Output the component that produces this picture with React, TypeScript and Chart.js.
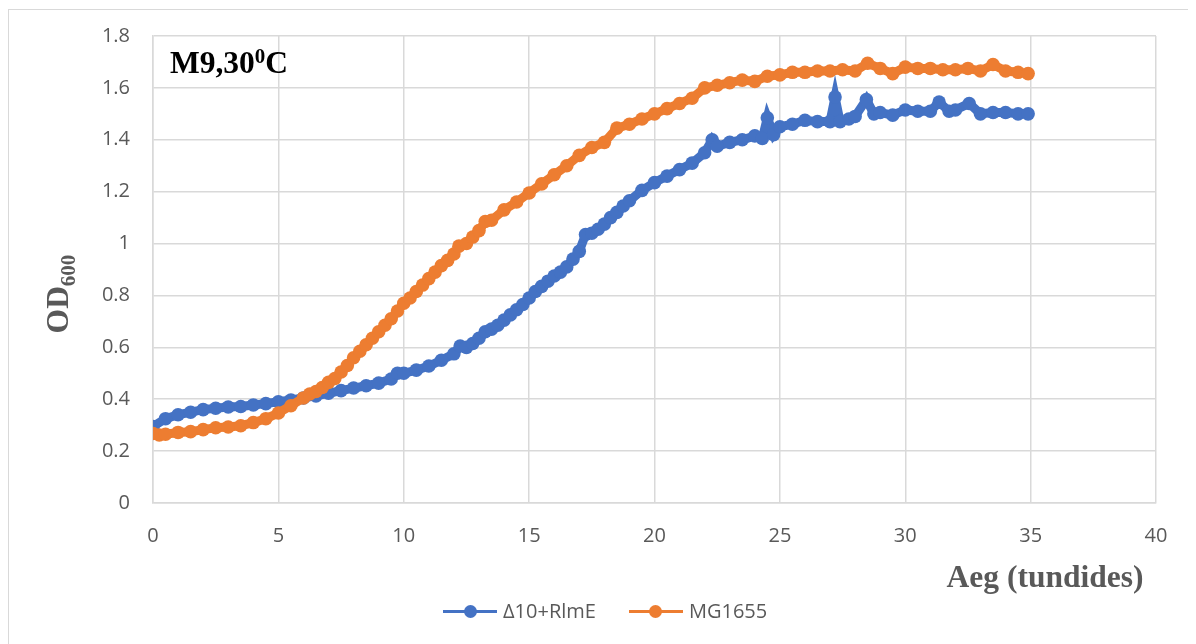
import React, { useEffect, useRef } from "react";
import { Chart, registerables } from "chart.js";

Chart.register(...registerables);

// Time (hours) and OD600 readings for Δ10+RlmE
const blueTime = [
  0, 0.5, 1, 1.5, 2, 2.5, 3, 3.5, 4, 4.5, 5, 5.5, 6, 6.5, 7, 7.5, 8, 8.5, 9, 9.5, 9.75,
  10, 10.5, 11, 11.5, 12, 12.25, 12.5, 12.75, 13, 13.25, 13.5, 13.75, 14, 14.25, 14.5, 14.75,
  15, 15.25, 15.5, 15.75, 16, 16.25, 16.5, 16.75, 17, 17.25, 17.5, 17.75, 18, 18.25, 18.5, 18.75,
  19, 19.5, 20, 20.5, 21, 21.5, 22, 22.3, 22.5, 23, 23.5, 24, 24.3, 24.5, 24.75, 25, 25.5, 26,
  26.5, 27, 27.2, 27.4, 27.75, 28, 28.45, 28.75, 29, 29.5, 30, 30.5, 31, 31.35, 31.75, 32,
  32.55, 33, 33.5, 34, 34.5, 34.9,
];
const blueOD = [
  0.295, 0.325, 0.34, 0.35, 0.36, 0.365, 0.37, 0.372, 0.378, 0.383, 0.39, 0.397, 0.405, 0.413,
  0.423, 0.433, 0.443, 0.452, 0.462, 0.478, 0.5,
  0.5, 0.512, 0.528, 0.55, 0.575, 0.605, 0.6, 0.615, 0.635, 0.66, 0.67, 0.685, 0.705, 0.725,
  0.745, 0.765,
  0.79, 0.815, 0.835, 0.855, 0.875, 0.89, 0.91, 0.94, 0.97, 1.035, 1.04, 1.055, 1.075, 1.1,
  1.12, 1.145,
  1.165, 1.205, 1.235, 1.26, 1.285, 1.31, 1.35, 1.4, 1.375, 1.39, 1.4, 1.415, 1.405, 1.485,
  1.42, 1.45, 1.46, 1.475,
  1.47, 1.47, 1.565, 1.47, 1.48, 1.49, 1.555, 1.5, 1.505, 1.495, 1.515, 1.51, 1.51, 1.545,
  1.51, 1.515,
  1.54, 1.5, 1.505, 1.505, 1.5, 1.5,
];

// Time (hours) and OD600 readings for MG1655
const orangeTime = [
  0, 0.25, 0.5, 1, 1.5, 2, 2.5, 3, 3.5, 4, 4.5, 5, 5.5, 6, 6.25, 6.5, 6.75, 7, 7.25, 7.5, 7.75,
  8, 8.25, 8.5, 8.75, 9, 9.25, 9.5, 9.75, 10, 10.25, 10.5, 10.75, 11, 11.25, 11.5, 11.75, 12,
  12.2, 12.5, 12.75, 13, 13.25, 13.5, 14, 14.5, 15, 15.5, 16, 16.5, 17, 17.5, 18, 18.5, 19,
  19.5, 20, 20.5, 21, 21.5, 22, 22.5, 23, 23.5, 24, 24.5, 25, 25.5, 26, 26.5, 27, 27.5, 28,
  28.5, 29, 29.5, 30, 30.5, 31, 31.5, 32, 32.5, 33, 33.5, 34, 34.5, 34.9,
];
const orangeOD = [
  0.268, 0.262, 0.265, 0.272, 0.275, 0.283, 0.29, 0.293, 0.298, 0.31, 0.325, 0.347, 0.375,
  0.405, 0.42, 0.43, 0.445, 0.465, 0.48, 0.505, 0.53,
  0.56, 0.585, 0.61, 0.635, 0.66, 0.685, 0.71, 0.74, 0.77, 0.79, 0.815, 0.84, 0.865, 0.89,
  0.915, 0.935, 0.96,
  0.99, 1.0, 1.025, 1.05, 1.085, 1.09, 1.13, 1.16, 1.195, 1.23, 1.265, 1.3, 1.34, 1.37, 1.39,
  1.445, 1.46,
  1.48, 1.5, 1.52, 1.54, 1.56, 1.6, 1.61, 1.62, 1.63, 1.625, 1.645, 1.65, 1.66, 1.66, 1.665,
  1.665, 1.67, 1.665,
  1.695, 1.675, 1.655, 1.68, 1.675, 1.675, 1.67, 1.67, 1.675, 1.665, 1.69, 1.665, 1.66, 1.655,
];

const seriesNames = ["Δ10+RlmE", "MG1655"];
const seriesColors = ["#4472C4", "#ED7D31"];
const xTickStep = 5;
const yTickStep = 0.2;

const W = 1180;
const H = 636;
const PAD_TOP = 28;
const PAD_RIGHT = 32;
const Y_AXIS_W = 145;
const X_AXIS_H = 141;

const GRID = "#d9d9d9";
const TEXT = "#595959";

export default function App() {
  const ref = useRef<HTMLCanvasElement | null>(null);

  useEffect(() => {
    document.documentElement.style.overflow = "hidden";
    document.body.style.overflow = "hidden";
    const canvas = ref.current;
    if (!canvas) return;
    Chart.defaults.font.family = "'Open Sans', sans-serif";
    const toPts = (xs: number[], ys: number[]) => xs.map((x, i) => ({ x, y: ys[i] }));
    const mk = (i: number, xs: number[], ys: number[], order: number) => ({
      label: seriesNames[i],
      data: toPts(xs, ys),
      borderColor: seriesColors[i],
      backgroundColor: seriesColors[i],
      borderWidth: 9,
      pointRadius: 6.8,
      pointBorderWidth: 0,
      pointHoverRadius: 6.8,
      order,
    });
    const chart = new Chart(canvas, {
      type: "line",
      data: {
        datasets: [mk(0, blueTime, blueOD, 2), mk(1, orangeTime, orangeOD, 1)],
      },
      options: {
        responsive: false,
        animation: false,
        layout: { padding: { top: PAD_TOP, right: PAD_RIGHT, left: 0, bottom: 0 } },
        plugins: { legend: { display: false }, tooltip: { enabled: false }, title: { display: false } },
        scales: {
          x: {
            type: "linear",
            min: 0,
            max: 40,
            ticks: {
              stepSize: xTickStep,
              color: TEXT,
              font: { size: 20 },
              padding: 21,
            },
            grid: { color: GRID, lineWidth: 1.5, drawTicks: false },
            border: { color: GRID, width: 1.5 },
            afterFit: (s: any) => {
              s.height = X_AXIS_H;
              s.paddingLeft = 0;
              s.paddingRight = 0;
              s.paddingTop = 0;
              s.paddingBottom = 0;
            },
          },
          y: {
            min: 0,
            max: 1.8,
            ticks: {
              stepSize: yTickStep,
              color: TEXT,
              font: { size: 20 },
              padding: 23,
              callback: (v: any) => String(parseFloat(Number(v).toFixed(1))),
            },
            grid: { color: GRID, lineWidth: 1.5, drawTicks: false },
            border: { color: GRID, width: 1.5 },
            afterFit: (s: any) => {
              s.width = Y_AXIS_W;
              s.paddingLeft = 0;
              s.paddingRight = 0;
              s.paddingTop = 0;
              s.paddingBottom = 0;
            },
          },
        },
      },
    });
    return () => chart.destroy();
  }, []);

  const serifBold: React.CSSProperties = {
    fontFamily: "'Liberation Serif', 'Times New Roman', serif",
    fontWeight: "bold",
    fontSize: 31.5,
    lineHeight: 1,
    whiteSpace: "nowrap",
    position: "absolute",
  };

  const legendItem = (color: string, name: string) => (
    <div style={{ display: "flex", alignItems: "center" }}>
      <div style={{ position: "relative", width: 54, height: 14 }}>
        <div
          style={{
            position: "absolute",
            left: 0,
            right: 0,
            top: 5.5,
            height: 3,
            background: color,
          }}
        />
        <div
          style={{
            position: "absolute",
            left: 20.5,
            top: 0.5,
            width: 13,
            height: 13,
            borderRadius: "50%",
            background: color,
          }}
        />
      </div>
      <span style={{ marginLeft: 6, fontFamily: "'Open Sans', sans-serif", fontSize: 20, color: TEXT, lineHeight: "24px" }}>
        {name}
      </span>
    </div>
  );

  return (
    <div style={{ position: "relative", width: W, height: H, overflow: "hidden" }}>
      <canvas ref={ref} width={W} height={H} style={{ position: "absolute", left: 0, top: 0, width: W, height: H }} />
      <div
        style={{
          position: "absolute",
          left: 0,
          top: 1,
          width: W + 1,
          height: H + 20,
          border: `1px solid ${GRID}`,
          boxSizing: "border-box",
          pointerEvents: "none",
        }}
      />
      <div style={{ ...serifBold, left: 162, top: 39, color: "#000" }}>
        M9,30<span style={{ fontSize: 21, position: "relative", top: -10 }}>0</span>C
      </div>
      <div
        style={{
          ...serifBold,
          left: 50,
          top: 286,
          color: TEXT,
          transform: "translate(-50%, -50%) rotate(-90deg)",
        }}
      >
        OD<span style={{ fontSize: 21, position: "relative", top: 7 }}>600</span>
      </div>
      <div style={{ ...serifBold, left: 1037, top: 553, color: TEXT, transform: "translateX(-50%)" }}>
        Aeg (tundides)
      </div>
      <div
        style={{
          position: "absolute",
          left: 435,
          top: 591,
          display: "flex",
          alignItems: "center",
          gap: 33,
        }}
      >
        {legendItem(seriesColors[0], seriesNames[0])}
        {legendItem(seriesColors[1], seriesNames[1])}
      </div>
    </div>
  );
}
